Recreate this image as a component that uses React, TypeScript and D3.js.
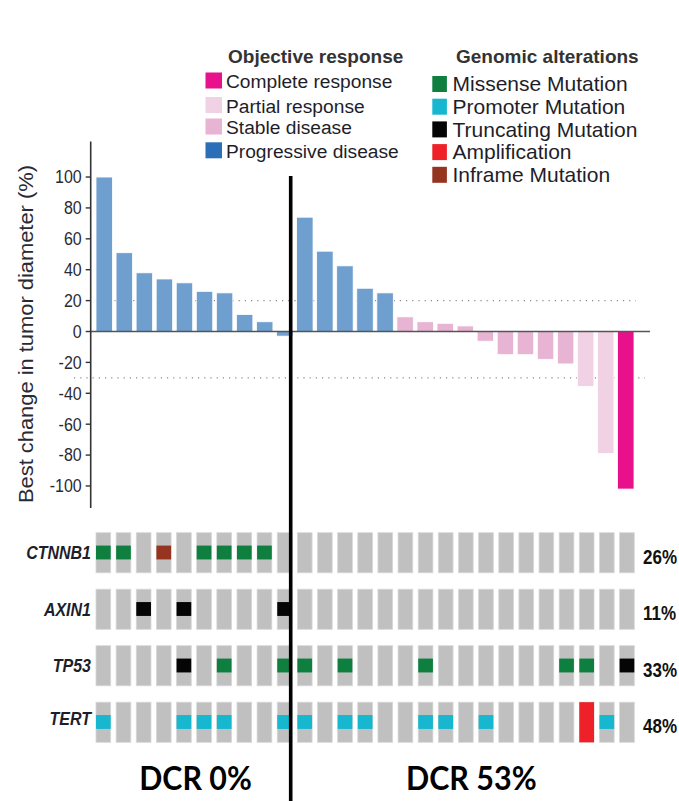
import React from "react";
import * as d3 from "d3";

// Best change in tumor diameter (%) per patient, ordered as in the waterfall
const bestChange = [
  100, 51, 38, 34, 31.5, 26, 25, 11, 6.3, -3,
  74, 52, 42.5, 28, 25, 9.5, 6.3, 5.3, 3.6, -6.3, -15, -15, -18, -21, -35.5, -79, -102,
];

// Objective response per patient: CR, PR, SD, PD
const response = [
  "PD", "PD", "PD", "PD", "PD", "PD", "PD", "PD", "PD", "PD",
  "PD", "PD", "PD", "PD", "PD", "SD", "SD", "SD", "SD", "SD", "SD", "SD", "SD", "SD", "PR", "PR", "CR",
];

const genes = ["CTNNB1", "AXIN1", "TP53", "TERT"];

// Alteration per patient: "" none, "mis" missense, "pro" promoter,
// "trunc" truncating, "amp" amplification, "inf" inframe
const ctnnb1 = ["mis", "mis", "", "inf", "", "mis", "mis", "mis", "mis", "", "", "", "", "", "", "", "", "", "", "", "", "", "", "", "", "", ""];
const axin1 = ["", "", "trunc", "", "trunc", "", "", "", "", "trunc", "", "", "", "", "", "", "", "", "", "", "", "", "", "", "", "", ""];
const tp53 = ["", "", "", "", "trunc", "", "mis", "", "", "mis", "mis", "", "mis", "", "", "", "mis", "", "", "", "", "", "", "mis", "mis", "", "trunc"];
const tert = ["pro", "", "", "", "pro", "pro", "pro", "", "", "pro", "pro", "", "pro", "pro", "", "", "pro", "pro", "", "pro", "", "", "", "", "amp", "pro", ""];

const alterations = [ctnnb1, axin1, tp53, tert];

// Disease control rate of the two patient groups
const dcrLabels = ["DCR 0%", "DCR 53%"];

const yTicks = [100, 80, 60, 40, 20, 0, -20, -40, -60, -80, -100];
const thresholds = [20, -30];

const responseLegend = [
  { key: "CR", label: "Complete response" },
  { key: "PR", label: "Partial response" },
  { key: "SD", label: "Stable disease" },
  { key: "PD", label: "Progressive disease" },
];
const alterationLegend = [
  { key: "mis", label: "Missense Mutation" },
  { key: "pro", label: "Promoter Mutation" },
  { key: "trunc", label: "Truncating Mutation" },
  { key: "amp", label: "Amplification" },
  { key: "inf", label: "Inframe Mutation" },
];

const barColor: Record<string, string> = {
  CR: "#e8118b",
  PR: "#f1d1e4",
  SD: "#e7b4d3",
  PD: "#6f9fce",
};
const legendRespColor: Record<string, string> = {
  CR: "#e8118b",
  PR: "#f1d1e4",
  SD: "#e7b4d3",
  PD: "#2a6fb7",
};
const altColor: Record<string, string> = {
  mis: "#0f7f3f",
  pro: "#16b7cf",
  trunc: "#050505",
  amp: "#ed2127",
  inf: "#953520",
};

const W = 679;
const H = 801;
const FONT = "'Liberation Sans', Arial, sans-serif";

export default function App() {
  const idx = bestChange.map((_, i) => i);

  const y = d3.scaleLinear().domain([-114, 123]).range([507.6, 141.5]);
  const xBar = d3.scaleBand<number>().domain(idx).range([96, 634]).paddingInner(0.18).paddingOuter(0);
  const xCell = d3.scaleBand<number>().domain(idx).range([96, 634.3]).paddingInner(0.27).paddingOuter(0);
  const yRow = d3.scaleBand<string>().domain(genes).range([532.7, 742.3]).paddingInner(0.29).paddingOuter(0);

  const axisX = 90.7;
  const dividerX = 290.7;

  const pct = alterations.map(
    (a) => Math.round((100 * a.filter((v) => v !== "").length) / a.length) + "%"
  );

  const textStretch = 1.14;

  return (
    <svg width={W} height={H} style={{ position: "absolute", left: 0, top: 0, background: "#fff" }} fontFamily={FONT}>
      {/* Objective response legend */}
      <text x={228} y={63} fontSize={19} fontWeight="bold" fill="#333">Objective response</text>
      {responseLegend.map((d, i) => {
        const cy = [80.5, 105, 126.5, 150.3][i];
        return (
          <g key={d.key}>
            <rect x={205.5} y={cy - 8} width={16.5} height={16} fill={legendRespColor[d.key]} />
            <text x={226} y={cy + 1} dy="0.35em" fontSize={19.2} fill="#1e1e2a">{d.label}</text>
          </g>
        );
      })}

      {/* Genomic alterations legend */}
      <text x={456} y={63} fontSize={19} fontWeight="bold" fill="#333">Genomic alterations</text>
      {alterationLegend.map((d, i) => {
        const cy = 84 + i * 22.7;
        return (
          <g key={d.key}>
            <rect x={432.3} y={cy - 8} width={14.6} height={16} fill={altColor[d.key]} />
            <text x={452.5} y={cy} dy="0.35em" fontSize={21} fill="#1e1e2a">{d.label}</text>
          </g>
        );
      })}

      {/* Threshold lines */}
      {thresholds.map((t) => (
        <line key={t} x1={t > 0 ? 96 : 74} x2={t > 0 ? 636 : 645} y1={y(t)} y2={y(t)}
          stroke="#8a8a8a" strokeWidth={1.2} strokeDasharray="1.2,5" />
      ))}

      {/* Waterfall bars */}
      {bestChange.map((v, i) => (
        <rect key={i} x={xBar(i)} width={xBar.bandwidth()}
          y={Math.min(y(v), y(0))} height={Math.abs(y(v) - y(0))}
          fill={barColor[response[i]]} stroke="#ffffff" strokeWidth={0.8} />
      ))}

      {/* Zero line */}
      <line x1={axisX} x2={650} y1={y(0)} y2={y(0)} stroke="#555" strokeWidth={1.4} />

      {/* Y axis */}
      <line x1={axisX} x2={axisX} y1={141.5} y2={508} stroke="#333" strokeWidth={1.6} />
      {yTicks.map((t) => (
        <g key={t}>
          <line x1={axisX - 5} x2={axisX} y1={y(t)} y2={y(t)} stroke="#333" strokeWidth={1.4} />
          <text transform={`translate(${axisX - 9},${y(t)}) scale(1,${textStretch})`} dy="0.35em"
            textAnchor="end" fontSize={16} fill="#2a2a35">{t}</text>
        </g>
      ))}
      <text transform={`translate(33,334) rotate(-90)`} textAnchor="middle" fontSize={21}
        textLength={338} lengthAdjust="spacingAndGlyphs" fill="#2a2a35">
        Best change in tumor diameter (%)
      </text>

      {/* Oncoprint */}
      {genes.map((g, gi) => {
        const top = yRow(g) as number;
        const h = yRow.bandwidth();
        const cy = top + h / 2;
        return (
          <g key={g}>
            <text transform={`translate(91,${g === "TERT" ? cy - 4 : cy}) scale(1,${textStretch})`} dy="0.35em"
              textAnchor="end" fontSize={16} fontWeight="bold" fontStyle="italic" fill="#1e1e2a">{g}</text>
            {idx.map((i) => {
              const a = alterations[gi][i];
              const x = xCell(i) as number;
              const w = xCell.bandwidth();
              return (
                <g key={i}>
                  <rect x={x} y={top} width={w} height={h} fill="#c0c0c0" stroke="#d8d8d8" strokeWidth={0.8} />
                  {a === "amp" ? (
                    <rect x={x} y={top} width={w} height={h} fill={altColor[a]} />
                  ) : a ? (
                    <rect x={x} y={top + h / 3 - 0.5} width={w} height={h / 3 + 0.5} fill={altColor[a]} />
                  ) : null}
                </g>
              );
            })}
            <text transform={`translate(643,${cy + 4}) scale(1,${textStretch})`} dy="0.35em"
              fontSize={17} fontWeight="bold" fill="#111">{pct[gi]}</text>
          </g>
        );
      })}

      {/* Group divider */}
      <line x1={dividerX} x2={dividerX} y1={176} y2={H} stroke="#000" strokeWidth={3.6} />

      {/* Disease control rates */}
      <text x={139.3} y={790} fontFamily="Lato, 'Open Sans', sans-serif" fontWeight="bold" fontSize={32}
        textLength={112.5} lengthAdjust="spacingAndGlyphs" fill="#000">{dcrLabels[0]}</text>
      <text x={406} y={790} fontFamily="Lato, 'Open Sans', sans-serif" fontWeight="bold" fontSize={32}
        textLength={130.7} lengthAdjust="spacingAndGlyphs" fill="#000">{dcrLabels[1]}</text>
    </svg>
  );
}
